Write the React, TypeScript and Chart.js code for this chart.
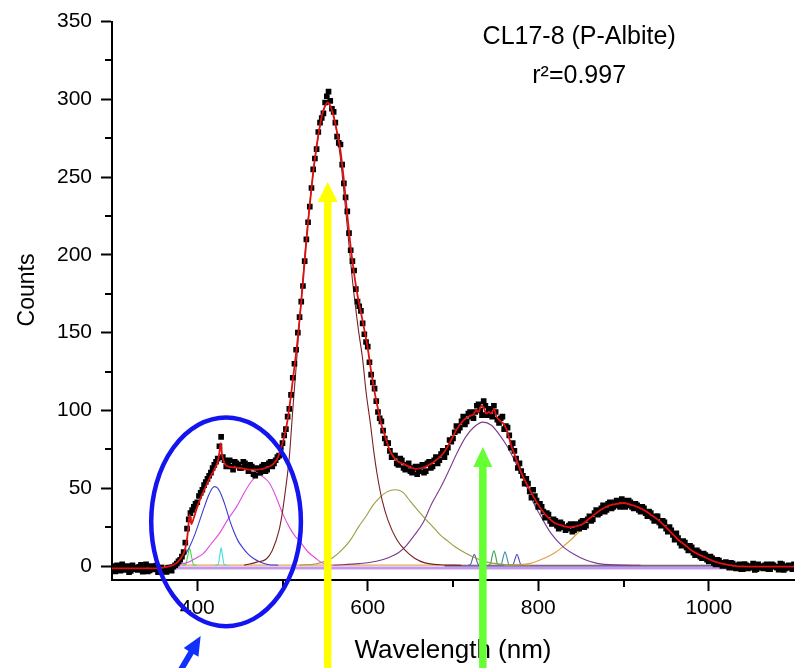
import React, { useEffect, useRef } from "react";
import { Chart, registerables } from "chart.js";

Chart.register(...registerables);

const FONT = '"Liberation Sans", Arial, Helvetica, sans-serif';

// ---- axis ticks ----
const xMajorTicks = [400, 600, 800, 1000];
const xMinorTicks = [500, 700, 900];
const yMajorTicks = [0, 50, 100, 150, 200, 250, 300, 350];
const yMinorTicks = [25, 75, 125, 175, 225, 275, 325];

// ---- measured spectrum: samples at 300, 304, ... 1100 nm ----
const obsStartNm = 300;
const obsStepNm = 4;
const obsCounts = [
  0, -3.5, -1, 1, -2.5, -4, 0.5, -2, -0.5, -3.7,
  1, -2.8, -1.3, 0.3, -3.5, -2.5, -3.8, -2, -0.5, 1.5,
  4, 9, 24, 34, 38, 41, 47, 52, 56, 60,
  65, 69, 83, 68, 66, 64, 67, 65, 63, 66,
  61, 64, 58, 62, 64, 61, 66, 64, 68, 71,
  79, 88, 101, 121, 139, 160, 180, 210, 231, 255,
  268, 285, 291, 302, 299, 292, 276, 271, 246, 228,
  203, 190, 170, 164, 149, 141, 123, 114, 99, 93,
  82, 79, 70, 71, 65, 68, 62, 66, 60, 64,
  61, 65, 61, 67, 64, 70, 68, 74, 73, 81,
  82, 90, 89, 96, 93, 99, 95, 103, 100, 106,
  97, 101, 103, 94, 95, 88, 89, 76, 74, 63,
  61, 53, 53, 44, 45, 38, 38, 31, 33, 27,
  29, 24, 27, 23, 26, 22, 27, 24, 29, 26,
  32, 30, 36, 34, 39, 36, 41, 38, 42, 38,
  42, 39, 41, 37, 39, 35, 37, 32, 34, 29,
  32, 26, 28, 22, 23, 17, 18, 13, 15, 10,
  12, 7, 9, 5, 7, 3, 5, 1, 3.5, 0,
  2.5, -1, 1.5, -1.5, 1, -2, 0.5, -1, 1.5, -2,
  0, -1.5, 1, -2, 0.5, -1, 1.5, -2.5, 0, -1,
  1,
];
// ---- measured spectrum: samples at 302, 306, ... 1098 nm ----
const obsStartNm2 = 302;
const obsCounts2 = [
  -2, 0.5, -3, -1.5, 0, -3.2, -1, -2.5, 0.8, -2,
  -3.5, 0, -2.2, -4, -1, -3.5, -1.2, -3, 0.5, 3,
  6, 15, 30, 36, 40, 45, 49, 54, 58, 63,
  67, 77, 70, 64, 68, 62, 66, 63, 67, 64,
  65, 59, 63, 60, 65, 62, 67, 66, 70, 76,
  84, 96, 110, 130, 150, 170, 196, 221, 243, 262,
  279, 288, 298, 305, 294, 285, 272, 258, 237, 214,
  196, 178, 167, 156, 144, 131, 118, 106, 95, 87,
  79, 74, 71, 66, 69, 63, 65, 61, 63, 59,
  64, 60, 66, 63, 68, 66, 72, 70, 76, 80,
  86, 87, 93, 91, 98, 96, 99, 104, 97, 103,
  100, 96, 99, 92, 96, 90, 84, 79, 69, 66,
  58, 56, 48, 49, 42, 40, 35, 34, 29, 30,
  26, 28, 25, 24, 27, 23, 26, 28, 25, 30,
  29, 34, 33, 37, 35, 40, 37, 41, 39, 43,
  38, 42, 38, 40, 36, 38, 34, 35, 31, 32,
  28, 29, 24, 25, 20, 21, 15, 16, 12, 13,
  8.5, 10, 6, 8, 4, 6, 2, 4, 1, 2,
  0, 2, -1, 0.5, -2, 1.2, -1.5, 0, -2.5, 1,
  -1, 0.5, -2, 1, -0.5, -2.3, 1, -1.5, 0.5, -2,
];
const obsWavelength = obsCounts.map((_, i) => obsStartNm + i * obsStepNm);
const obsWavelength2 = obsCounts2.map((_, i) => obsStartNm2 + i * obsStepNm);

// ---- cumulative fit (red) ----
const fitWl = [
  300, 320, 340, 356, 364, 370, 376, 380, 384, 387,
  389, 391, 393, 396, 400, 405, 410, 415, 420, 424,
  426, 427.5, 429, 432, 436, 440, 450, 460, 470, 480,
  488, 494, 498, 502, 506, 510, 514, 518, 522, 526,
  530, 534, 538, 542, 546, 550, 553, 556, 560, 564,
  568, 572, 576, 580, 584, 588, 592, 596, 600, 604,
  608, 612, 616, 620, 624, 628, 632, 636, 640, 648,
  656, 664, 672, 680, 688, 696, 704, 712, 720, 724,
  727, 730, 733, 736, 739, 742, 745, 748, 751, 756,
  760, 764, 768, 772, 776, 780, 788, 796, 804, 812,
  820, 828, 836, 844, 852, 860, 868, 876, 884, 892,
  900, 908, 916, 924, 932, 940, 948, 956, 964, 972,
  980, 988, 996, 1004, 1012, 1020, 1028, 1036, 1050, 1075,
  1100,
];
const fitCounts = [
  -1.5, -1.5, -1.5, -1.3, -0.5, 0.3, 2, 4.5, 8, 14,
  22, 33, 27, 31, 38, 45, 51, 57, 62, 67,
  73, 79, 72, 66, 64, 63.5, 63, 62, 62, 63,
  65, 69, 75, 83, 94, 110, 128, 147, 170, 196,
  221, 243, 262, 277, 289, 296, 298, 296, 289, 279,
  267, 248, 226, 205, 188, 174, 163, 152, 140, 125,
  112, 101, 91, 84, 77, 72, 69, 67, 66, 64,
  62.5, 63, 65, 68, 72, 79, 87.5, 93.5, 96.5, 97.5,
  100, 99, 103, 102, 98, 99, 98, 101, 96, 93,
  91, 86, 78, 72, 66, 60, 51, 43, 36, 31,
  27.5, 26, 25, 25.5, 27, 30.5, 34, 37, 39, 40,
  40.5, 39.5, 38, 36, 33, 30, 26, 21.5, 17, 13.5,
  10, 7.5, 5.5, 3.5, 2, 1, 0.3, -0.3, -0.4, -0.4,
  -0.4,
];

// ---- fitted components ----
const blueWl = [365, 372, 380, 386, 391, 397, 403, 408, 413, 417, 420, 424, 428, 433, 438, 443, 448, 453, 460, 467, 473, 483, 495];
const blueCounts = [0.5, 1.2, 3.8, 7.5, 12.4, 20, 29.5, 37.5, 45, 49.5, 51, 50, 46, 38.5, 29.5, 22, 16, 12, 7.5, 4.5, 2.8, 1, 0.5];

const magentaWl = [365, 380, 391, 400, 407, 416, 426, 436, 446, 455, 463, 468, 473, 478, 485, 492, 500, 508, 515, 520, 530, 539, 545, 551, 560];
const magentaCounts = [0.5, 1.2, 2.8, 5.5, 8, 14, 21, 30, 38, 47, 54, 57, 58.3, 57, 53, 45, 34, 25, 19, 16, 9, 5, 2.5, 1, 0.5];

const brownWl = [455, 470, 481, 488, 496, 500, 504, 508, 512, 516, 520, 527, 535, 543, 548, 553, 558, 563, 568, 576, 582, 589, 594, 598, 603, 607, 611, 617, 624, 634, 644, 655, 667, 685, 710];
const brownCounts = [0.5, 2.5, 4.5, 10, 23, 35, 51, 70, 100, 128, 158, 205, 248, 280, 293, 297, 294, 281, 262, 218, 184, 152, 133, 112, 92, 74, 59, 42, 29, 17, 10, 5, 2, 0.8, 0.5];

const oliveWl = [520, 540, 550, 558, 570, 580, 589, 598, 606, 614, 622, 632, 641, 650, 660, 668, 675, 685, 694, 702, 714, 725, 740, 760, 790];
const oliveCounts = [0.5, 1.5, 3, 5, 10.5, 17, 25, 32, 39, 44, 47.5, 49, 47.5, 41.5, 35, 30, 26, 20, 16, 12.5, 8.5, 5.5, 2.5, 1, 0.5];

const purpleWl = [560, 590, 610, 625, 636, 645, 655, 665, 675, 685, 694, 705, 715, 725, 735, 745, 755, 764, 772, 780, 788, 795, 805, 815, 828, 842, 855, 869, 890, 920];
const purpleCounts = [0.5, 1.5, 3, 5.5, 8.5, 13, 20, 28, 40, 50, 60, 73, 83, 89.5, 92.5, 90.5, 84, 76.5, 68, 59, 49, 40, 30, 21, 13, 7.5, 4, 1.7, 0.7, 0.5];

const orangeWl = [760, 780, 791, 805, 818, 828, 838, 848, 857, 866, 875, 887, 900, 913, 925, 941, 950, 960, 972, 985, 1000, 1016, 1040, 1060];
const orangeCounts = [0.5, 1, 1.7, 4.5, 8, 12, 16.7, 22, 27, 32, 36, 39.5, 40.5, 39, 35, 29.5, 24, 18.8, 12, 8, 4, 1.7, 0.6, 0.5];

const green390Wl = [383, 386.5, 389, 391, 393, 395.5, 399];
const green390Counts = [0.5, 1, 7, 11.3, 7, 1, 0.5];
const cyan428Wl = [421, 424.5, 426.5, 428, 429.5, 431.5, 435];
const cyan428Counts = [0.5, 1, 7, 11.7, 7, 1, 0.5];
const slate725Wl = [718, 721, 723, 725, 727, 729, 732];
const slate725Counts = [0.5, 1.5, 5, 7.5, 5, 1.5, 0.5];
const green748Wl = [741, 744, 746, 748, 750, 752, 755];
const green748Counts = [0.5, 1.5, 6.5, 9.8, 6.5, 1.5, 0.5];
const teal761Wl = [754, 757, 759, 761, 763, 765, 768];
const teal761Counts = [0.5, 1.5, 6, 9.2, 6, 1.5, 0.5];
const violet775Wl = [768, 771, 773, 775, 777, 779, 782];
const violet775Counts = [0.5, 1.5, 5, 7.5, 5, 1.5, 0.5];

// baselines
const baseWl = [300, 1100];
const baseOrangeCounts = [0.5, 0.5];
const baseLavenderCounts = [-1.3, -1.3];
const navyBaseWl = [690, 1045];
const navyBaseCounts = [0.1, 0.1];

// ---- annotations (data coordinates) ----
const sampleLabel = "CL17-8 (P-Albite)";
const r2Label = "r\u00B2=0.997";
const labelWl = 848;
const labelLine1Counts = 335.5;
const labelLine2Counts = 310.5;
const ellipseCenter = [433.8, 28.4];
const ellipseRadius = [87.8, 67.1];
const yellowArrow = { wl: 553, tip: 246.8 };
const greenArrow = { wl: 735, tip: 76.5 };
const blueArrowTip = [404, -45];
const blueArrowTail = [372, -75];

const pts = (xs: number[], ys: number[]) => xs.map((x, i) => ({ x, y: ys[i] }));

function lineSet(label: string, xs: number[], ys: number[], color: string, width = 1.1) {
  return {
    label,
    data: pts(xs, ys),
    showLine: true,
    borderColor: color,
    backgroundColor: color,
    borderWidth: width,
    pointRadius: 0,
    cubicInterpolationMode: "monotone" as const,
  };
}

function drawArrow(
  ctx: CanvasRenderingContext2D,
  x0: number, y0: number, x1: number, y1: number,
  shaft: number, headW: number, headL: number, color: string
) {
  const dx = x1 - x0, dy = y1 - y0;
  const len = Math.hypot(dx, dy);
  const ux = dx / len, uy = dy / len;
  const nx = -uy, ny = ux;
  const bx = x1 - ux * headL, by = y1 - uy * headL;
  ctx.beginPath();
  ctx.moveTo(x0 + (nx * shaft) / 2, y0 + (ny * shaft) / 2);
  ctx.lineTo(bx + (nx * shaft) / 2, by + (ny * shaft) / 2);
  ctx.lineTo(bx + (nx * headW) / 2, by + (ny * headW) / 2);
  ctx.lineTo(x1, y1);
  ctx.lineTo(bx - (nx * headW) / 2, by - (ny * headW) / 2);
  ctx.lineTo(bx - (nx * shaft) / 2, by - (ny * shaft) / 2);
  ctx.lineTo(x0 - (nx * shaft) / 2, y0 - (ny * shaft) / 2);
  ctx.closePath();
  ctx.fillStyle = color;
  ctx.fill();
}

const annotationPlugin = {
  id: "spectrumAnnotations",
  afterDraw(chart: any) {
    const ctx: CanvasRenderingContext2D = chart.ctx;
    const xs = chart.scales.x;
    const ys = chart.scales.y;
    const area = chart.chartArea;
    const H = chart.height;
    ctx.save();

    // minor ticks
    ctx.strokeStyle = "#000";
    ctx.lineWidth = 2;
    for (const v of xMinorTicks) {
      const px = Math.round(xs.getPixelForValue(v));
      ctx.beginPath();
      ctx.moveTo(px, area.bottom);
      ctx.lineTo(px, area.bottom + 7);
      ctx.stroke();
    }
    for (const v of yMinorTicks) {
      const py = Math.round(ys.getPixelForValue(v));
      ctx.beginPath();
      ctx.moveTo(area.left, py);
      ctx.lineTo(area.left - 7, py);
      ctx.stroke();
    }

    // sample label
    ctx.fillStyle = "#000";
    ctx.font = `25px ${FONT}`;
    ctx.textAlign = "center";
    ctx.textBaseline = "alphabetic";
    ctx.fillText(sampleLabel, xs.getPixelForValue(labelWl), ys.getPixelForValue(labelLine1Counts));
    ctx.fillText(r2Label, xs.getPixelForValue(labelWl), ys.getPixelForValue(labelLine2Counts));

    // y-axis title
    ctx.save();
    ctx.translate(28, 290);
    ctx.rotate(-Math.PI / 2);
    ctx.font = `23px ${FONT}`;
    ctx.textBaseline = "middle";
    ctx.fillText("Counts", 0, 0);
    ctx.restore();

    // blue ellipse
    const cx = xs.getPixelForValue(ellipseCenter[0]);
    const cy = ys.getPixelForValue(ellipseCenter[1]);
    const rx = Math.abs(xs.getPixelForValue(ellipseCenter[0] + ellipseRadius[0]) - cx);
    const ry = Math.abs(ys.getPixelForValue(ellipseCenter[1] + ellipseRadius[1]) - cy);
    ctx.beginPath();
    ctx.ellipse(cx, cy, rx, ry, 0, 0, Math.PI * 2);
    ctx.strokeStyle = "#1414f0";
    ctx.lineWidth = 4.5;
    ctx.stroke();

    // yellow arrow
    const yx = xs.getPixelForValue(yellowArrow.wl);
    drawArrow(ctx, yx, H + 5, yx, ys.getPixelForValue(yellowArrow.tip), 7.5, 20, 20, "#ffff00");
    // green arrow
    const gx = xs.getPixelForValue(greenArrow.wl);
    drawArrow(ctx, gx, H + 5, gx, ys.getPixelForValue(greenArrow.tip), 7.5, 19, 20, "#66ff33");
    // blue arrow
    drawArrow(
      ctx,
      xs.getPixelForValue(blueArrowTail[0]), ys.getPixelForValue(blueArrowTail[1]),
      xs.getPixelForValue(blueArrowTip[0]), ys.getPixelForValue(blueArrowTip[1]),
      6, 17, 19, "#1030ff"
    );
    ctx.restore();
  },
};

export default function App() {
  const ref = useRef<HTMLCanvasElement | null>(null);

  useEffect(() => {
    if (!ref.current) return;
    const dataStyle = {
      showLine: false,
      pointStyle: "rect",
      pointRadius: 4,
      pointBorderWidth: 0,
      backgroundColor: "#000",
      borderColor: "#000",
    };
    const datasets: any[] = [
      lineSet("Fit", fitWl, fitCounts, "#e01010", 1.8),
      { label: "Data", data: pts(obsWavelength, obsCounts), ...dataStyle },
      { label: "Data2", data: pts(obsWavelength2, obsCounts2), ...dataStyle },
      lineSet("Brown", brownWl, brownCounts, "#7a2020"),
      lineSet("Blue", blueWl, blueCounts, "#3a3ad0"),
      lineSet("Magenta", magentaWl, magentaCounts, "#e04ce0"),
      lineSet("Olive", oliveWl, oliveCounts, "#9c9c40"),
      lineSet("Purple", purpleWl, purpleCounts, "#7a3a8c"),
      lineSet("Orange", orangeWl, orangeCounts, "#e89a40"),
      lineSet("G390", green390Wl, green390Counts, "#40e040"),
      lineSet("C428", cyan428Wl, cyan428Counts, "#40dce0"),
      lineSet("S725", slate725Wl, slate725Counts, "#5a5aa8"),
      lineSet("G748", green748Wl, green748Counts, "#3aa050"),
      lineSet("T761", teal761Wl, teal761Counts, "#3a90a8"),
      lineSet("V775", violet775Wl, violet775Counts, "#5050c8"),
      lineSet("BaseNavy", navyBaseWl, navyBaseCounts, "#4050a8"),
      lineSet("BaseOrange", baseWl, baseOrangeCounts, "#e0a860", 1.2),
      lineSet("BaseLavender", baseWl, baseLavenderCounts, "#c898e8", 3),
    ];

    const tickFont = { family: FONT, size: 21 };

    const chart = new Chart(ref.current, {
      type: "scatter",
      data: { datasets },
      options: {
        animation: false,
        responsive: false,
        devicePixelRatio: 1,
        layout: { padding: { top: 20, right: 0, left: 0, bottom: 0 } },
        plugins: {
          legend: { display: false },
          tooltip: { enabled: false },
        },
        scales: {
          x: {
            type: "linear",
            min: 300,
            max: 1100,
            afterBuildTicks: (s: any) => {
              s.ticks = xMajorTicks.map((v) => ({ value: v }));
            },
            afterFit: (s: any) => {
              s.height = 88;
            },
            ticks: {
              font: tickFont,
              color: "#000",
              padding: 5,
              maxRotation: 0,
              autoSkip: false,
              callback: (v: any) => String(v),
            },
            grid: {
              drawOnChartArea: false,
              drawTicks: true,
              tickLength: 11,
              tickWidth: 2,
              tickColor: "#000",
            },
            border: { display: true, color: "#000", width: 2 },
            title: {
              display: true,
              text: "Wavelength (nm)",
              color: "#000",
              font: { family: FONT, size: 26 },
              padding: { top: 0, bottom: 2 },
            },
          },
          y: {
            type: "linear",
            min: -9,
            max: 350,
            afterBuildTicks: (s: any) => {
              s.ticks = yMajorTicks.map((v) => ({ value: v }));
            },
            afterFit: (s: any) => {
              s.width = 112;
            },
            ticks: {
              font: tickFont,
              color: "#000",
              padding: 9,
              autoSkip: false,
              callback: (v: any) => String(v),
            },
            grid: {
              drawOnChartArea: false,
              drawTicks: true,
              tickLength: 11,
              tickWidth: 2,
              tickColor: "#000",
            },
            border: { display: true, color: "#000", width: 2 },
            title: { display: false },
          },
        },
      } as any,
      plugins: [annotationPlugin],
    });
    return () => chart.destroy();
  }, []);

  return (
    <div style={{ position: "absolute", left: 0, top: 0, width: 798, height: 668, background: "#fff" }}>
      <canvas ref={ref} width={798} height={668} style={{ display: "block", width: 798, height: 668 }} />
    </div>
  );
}
